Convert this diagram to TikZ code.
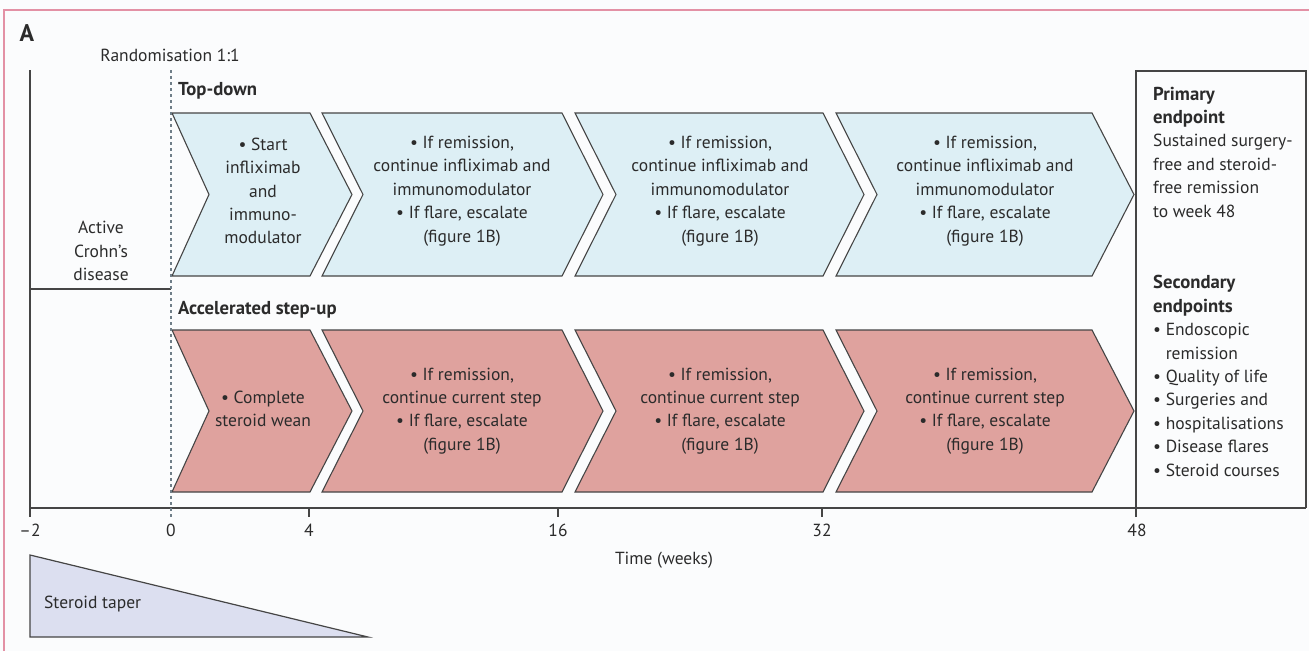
\documentclass[tikz,border=0pt]{standalone}
\usepackage{fontspec}
\setmainfont{PT Sans}
\definecolor{framec}{HTML}{E391A5}
\definecolor{ln}{HTML}{454545}
\definecolor{blu}{HTML}{DDEFF5}
\definecolor{pnk}{HTML}{DFA29E}
\definecolor{lav}{HTML}{DCDFF0}
\definecolor{txt}{HTML}{2B2B2B}
\definecolor{dotc}{HTML}{6F7E88}
\definecolor{bg}{HTML}{FBFCFD}
\newcommand{\bfh}[1]{{\fontsize{18.7}{23.4}\selectfont\bfseries #1}}
\begin{document}
\begin{tikzpicture}[x=1pt,y=-1pt,
  every node/.style={text=txt, inner sep=0pt, font=\fontsize{17.5}{23.4}\selectfont},
  chevblue/.style={draw=ln, fill=blu, line width=1.1pt, line join=miter},
  chevpink/.style={draw=ln, fill=pnk, line width=1.1pt, line join=miter},
  axisline/.style={draw=ln, line width=1.2pt},
  txtc/.style={align=center},
  txtl/.style={align=left, anchor=west},
  heading/.style={anchor=west, font=\fontsize{18.7}{23.4}\selectfont\bfseries}]
\useasboundingbox (0,0) rectangle (1309,651);
\fill[bg] (0,0) rectangle (1309,651);
% frame
\draw[framec, line width=1.5pt] (4,651) -- (4,10) -- (1309,10);

% chevrons top row (y 113..276, mid 194.5)
\def\ct{113}\def\cb{276}\def\cm{194.5}
\path[chevblue] (172,\ct) -- (310,\ct) -- (352,\cm) -- (310,\cb) -- (172,\cb) -- (209,\cm) -- cycle;
\path[chevblue] (322,\ct) -- (562,\ct) -- (603,\cm) -- (562,\cb) -- (322,\cb) -- (363,\cm) -- cycle;
\path[chevblue] (575,\ct) -- (823,\ct) -- (864,\cm) -- (823,\cb) -- (575,\cb) -- (616,\cm) -- cycle;
\path[chevblue] (836,\ct) -- (1092,\ct) -- (1134,\cm) -- (1092,\cb) -- (836,\cb) -- (877,\cm) -- cycle;
% chevrons bottom row (y 330..492, mid 411)
\def\ct{330}\def\cb{492}\def\cm{411}
\path[chevpink] (172,\ct) -- (310,\ct) -- (352,\cm) -- (310,\cb) -- (172,\cb) -- (209,\cm) -- cycle;
\path[chevpink] (322,\ct) -- (562,\ct) -- (603,\cm) -- (562,\cb) -- (322,\cb) -- (363,\cm) -- cycle;
\path[chevpink] (575,\ct) -- (823,\ct) -- (864,\cm) -- (823,\cb) -- (575,\cb) -- (616,\cm) -- cycle;
\path[chevpink] (836,\ct) -- (1092,\ct) -- (1134,\cm) -- (1092,\cb) -- (836,\cb) -- (877,\cm) -- cycle;

% axes and frame lines
\coordinate (lt) at (30,70);
\coordinate (lb) at (30,517);
\draw[axisline] (lt) -- (lb);
\coordinate (hl) at (30,289);
\coordinate (hr) at (171,289);
\draw[axisline] (hl) -- (hr);
\coordinate (ax0) at (30,508);
\coordinate (ax1) at (1306,508);
\draw[axisline] (ax0) -- (ax1);
\coordinate (dt) at (171,70);
\coordinate (db) at (171,517);
\draw[dotc, line width=1.1pt, dash pattern=on 3pt off 3pt] (dt) -- (db);
\foreach \x in {309,558,822}{\draw[axisline] (\x,508) -- (\x,517);}
% endpoint box
\coordinate (bx0) at (1136,71);
\coordinate (bx1) at (1306,508);
\draw[axisline, line join=miter] (1136,517) -- (1136,71) -- (1306,71) -- (1306,508);

% steroid taper
\draw[draw=ln, fill=lav, line width=1.2pt, line join=miter] (30,555) -- (30,637) -- (368,637) -- cycle;
\node[anchor=west] (taper) at (44,604) {Steroid taper};

% labels
\node[font=\fontsize{24}{26}\selectfont\bfseries] (A) at (27,33) {A};
\node (rand) at (170,55) {Randomisation 1:1};
\node[heading] (td) at (178,91) {Top-down};
\node[heading] (as) at (178,310) {Accelerated step-up};
\node[txtc] (acd) at (101,251) {Active\\Crohn’s\\disease};

% chevron texts
\node[txtc] (t1) at (263,191) {• Start\\infliximab\\and\\immuno-\\modulator};
\node[txtc] (t2) at (462,191) {• If remission,\\continue infliximab and\\immunomodulator\\• If flare, escalate\\(figure 1B)};
\node[txtc] (t3) at (720,191) {• If remission,\\continue infliximab and\\immunomodulator\\• If flare, escalate\\(figure 1B)};
\node[txtc] (t4) at (985,191) {• If remission,\\continue infliximab and\\immunomodulator\\• If flare, escalate\\(figure 1B)};
\node[txtc] (b1) at (263,409) {• Complete\\steroid wean};
\node[txtc] (b2) at (462,411) {• If remission,\\continue current step\\• If flare, escalate\\(figure 1B)};
\node[txtc] (b3) at (720,411) {• If remission,\\continue current step\\• If flare, escalate\\(figure 1B)};
\node[txtc] (b4) at (985,411) {• If remission,\\continue current step\\• If flare, escalate\\(figure 1B)};

% endpoints
\node[txtl] (prim) at (1153,152) {\bfh{Primary}\\\bfh{endpoint}\\Sustained surgery-\\free and steroid-\\free remission\\to week 48};
\node[txtl] (sec) at (1153,376) {\bfh{Secondary}\\\bfh{endpoints}\\• Endoscopic\\\phantom{• }remission\\• Quality of life\\• Surgeries and\\• hospitalisations\\• Disease flares\\• Steroid courses};

% ticks
\node (k1) at (30,530) {–2};
\node (k2) at (171,530) {0};
\node (k3) at (309,530) {4};
\node (k4) at (558,530) {16};
\node (k5) at (822,530) {32};
\node (k6) at (1137,530) {48};
\node (time) at (664,560) {Time (weeks)};
\end{tikzpicture}
\end{document}
